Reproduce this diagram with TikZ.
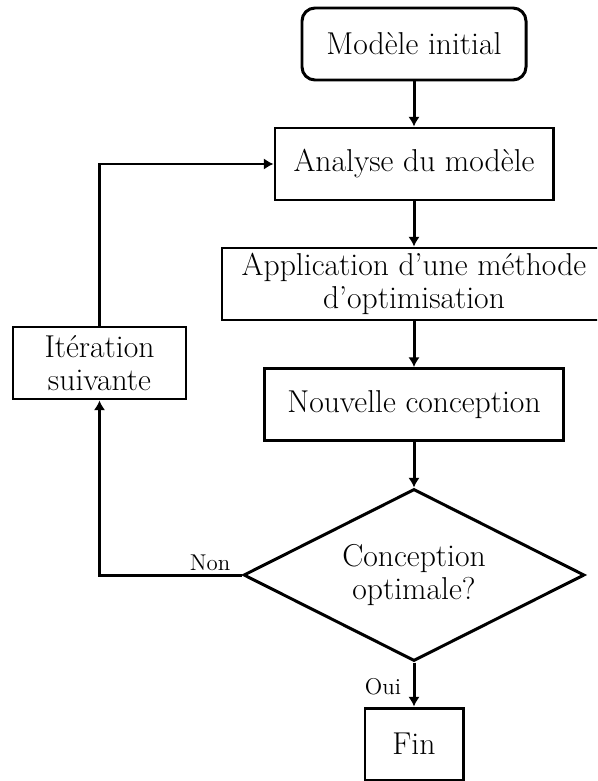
\documentclass[tikz,border=0pt]{standalone}
\usetikzlibrary{shapes.geometric,arrows.meta}
\begin{document}
\begin{tikzpicture}[
    box/.style={draw,line width=1.7pt,inner sep=0pt,align=center,
                font=\fontsize{18}{18.6}\selectfont,minimum height=1.44cm},
    decision/.style={draw,line width=1.7pt,diamond,aspect=2,inner sep=0pt,align=center,
                font=\fontsize{18}{18.6}\selectfont,minimum width=6.82cm,minimum height=3.44cm},
    lab/.style={font=\fontsize{13}{14}\selectfont},
    flow/.style={line width=1.7pt,-{Latex[length=5.5pt,width=6.5pt]}}]
  \useasboundingbox (0,0) rectangle (11.94,-15.62);
  \clip (0,0) rectangle (11.94,-15.62);
  % main column
  \node[box,rounded corners=0.26cm,minimum width=4.48cm] (init) at (8.28,-0.88) {Modèle initial};
  \node[box,minimum width=5.56cm] (analyse) at (8.28,-3.28) {Analyse du modèle};
  \node[box,minimum width=7.68cm] (methode) at (8.28,-5.68) {Application d'une méthode\\d'optimisation};
  \node[box,minimum width=5.98cm] (nouvelle) at (8.28,-8.09) {Nouvelle conception};
  \node[decision] (optimale) at (8.28,-11.50) {Conception\\optimale?};
  \node[box,minimum width=1.96cm] (fin) at (8.28,-14.88) {Fin};
  % loop back
  \node[box,minimum width=3.46cm] (iteration) at (1.99,-7.26) {Itération\\suivante};
  \draw[flow] (init) -- (analyse);
  \draw[flow] (analyse) -- (methode);
  \draw[flow] (methode) -- (nouvelle);
  \draw[flow] (nouvelle) -- (optimale);
  \draw[flow] (optimale) -- (fin);
  \draw[flow] (optimale.west) -| (iteration.south);
  \draw[flow] (iteration.north) |- (analyse.west);
  \node[lab] (non) at (4.20,-11.26) {Non};
  \node[lab] (oui) at (7.66,-13.74) {Oui};
\end{tikzpicture}
\end{document}
